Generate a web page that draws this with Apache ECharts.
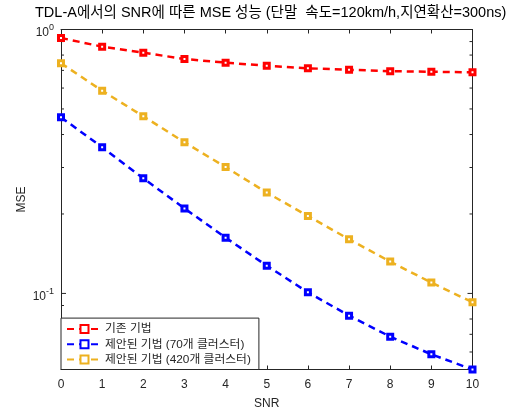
<!DOCTYPE html>
<html>
<head>
<meta charset="utf-8">
<script src="https://cdn.jsdelivr.net/npm/echarts@6/dist/echarts.min.js"></script>
<style>
html,body{margin:0;padding:0;background:#fff;}
#chart{width:525px;height:417px;}
</style>
</head>
<body>
<div id="chart"></div>
<script>
// ---- data ----
const snr = [0, 1, 2, 3, 4, 5, 6, 7, 8, 9, 10];
const conventional = [0.929, 0.861, 0.817, 0.773, 0.749, 0.729, 0.713, 0.704, 0.695, 0.692, 0.688];
const proposed70 = [0.465, 0.358, 0.273, 0.210, 0.1627, 0.1274, 0.101, 0.0824, 0.0686, 0.0588, 0.0515];
const proposed420 = [0.745, 0.586, 0.469, 0.374, 0.301, 0.241, 0.1966, 0.1604, 0.132, 0.1099, 0.0926];
const seriesNames = ['기존 기법', '제안된 기법 (70개 클러스터)', '제안된 기법 (420개 클러스터)'];
const xTicks = [0, 1, 2, 3, 4, 5, 6, 7, 8, 9, 10];
const yMajorTicks = [1, 0.1];
const yMajorLabels = [['10', '0'], ['10', '-1']];
const yMinorTicks = [0.9, 0.8, 0.7, 0.6, 0.5, 0.4, 0.3, 0.2, 0.09, 0.08, 0.07, 0.06];
const yMin = 0.0515, yMax = 1;
const titleText = 'TDL-A에서의 SNR에 따른 MSE 성능 (단말  속도=120km/h,지연확산=300ns)';

const FONT = "Arial, 'Liberation Sans', 'Noto Sans CJK KR', sans-serif";
const AX = '#262626';
const colors = ['#ff0000', '#0000ff', '#EDB120'];

const chart = echarts.init(document.getElementById('chart'), null, {renderer: 'canvas'});

function mkSeries(name, vals, color) {
  return {
    name: name,
    type: 'line',
    xAxisIndex: 0, yAxisIndex: 0,
    data: snr.map((x, i) => [x, vals[i]]),
    symbol: 'rect',
    symbolSize: 5,
    showSymbol: true,
    lineStyle: {color: color, width: 2.5, type: [7, 5]},
    itemStyle: {color: '#ffffff', borderColor: color, borderWidth: 3},
    emphasis: {disabled: true},
    animation: false,
    z: 3
  };
}

const option = {
  animation: false,
  backgroundColor: '#ffffff',
  textStyle: {fontFamily: FONT},
  title: {
    text: titleText,
    left: 35,
    top: 6,
    padding: 0,
    textStyle: {fontFamily: FONT, fontSize: 14.5, fontWeight: 'normal', color: '#000'}
  },
  grid: {left: 61, right: 52.5, top: 29.5, bottom: 47.5, containLabel: false},
  xAxis: [{
    type: 'value', min: 0, max: 10, interval: 1,
    name: 'SNR', nameLocation: 'middle', nameGap: 28,
    nameTextStyle: {color: AX, fontSize: 12, fontFamily: FONT},
    axisLine: {show: true, lineStyle: {color: AX, width: 1}},
    axisTick: {show: true, inside: true, length: 4, lineStyle: {color: AX}},
    axisLabel: {color: AX, fontSize: 12, fontFamily: FONT, margin: 9},
    splitLine: {show: false}
  }, {
    type: 'value', min: 0, max: 10, interval: 1, position: 'top',
    axisLine: {show: true, lineStyle: {color: AX, width: 1}},
    axisTick: {show: true, inside: true, length: 4, lineStyle: {color: AX}},
    axisLabel: {show: false},
    splitLine: {show: false}
  }],
  yAxis: [{
    type: 'log', logBase: 10, min: yMin, max: yMax,
    name: 'MSE', nameLocation: 'middle', nameGap: 33, nameRotate: 90,
    nameTextStyle: {color: AX, fontSize: 12, fontFamily: FONT},
    axisLine: {show: true, lineStyle: {color: AX, width: 1}},
    axisTick: {show: false},
    axisLabel: {show: false},
    splitLine: {show: false}
  }, {
    type: 'log', logBase: 10, min: yMin, max: yMax, position: 'right',
    axisLine: {show: true, onZero: false, lineStyle: {color: AX, width: 1}},
    axisTick: {show: false},
    axisLabel: {show: false},
    splitLine: {show: false}
  }],
  legend: {
    orient: 'vertical',
    left: 61, bottom: 47.5,
    padding: [5, 8, 4, 5],
    itemWidth: 35, itemHeight: 10, itemGap: 3.5,
    backgroundColor: '#ffffff',
    borderColor: AX, borderWidth: 1, borderRadius: 0,
    textStyle: {color: AX, fontSize: 11.8, fontFamily: FONT, padding: [0, 0, 0, -2]},
    data: seriesNames,
    selectedMode: false
  },
  series: [
    mkSeries(seriesNames[0], conventional, colors[0]),
    mkSeries(seriesNames[1], proposed70, colors[1]),
    mkSeries(seriesNames[2], proposed420, colors[2]),
    {
      type: 'custom',
      xAxisIndex: 0, yAxisIndex: 0,
      data: [[0, 1]],
      silent: true,
      z: 1,
      renderItem: function (params, api) {
        const cs = params.coordSys;
        const L = cs.x, R = cs.x + cs.width;
        const children = [];
        const addTick = (v, len) => {
          const y = api.coord([0, v])[1];
          children.push({type: 'line', shape: {x1: L, y1: y, x2: L + len, y2: y}, style: {stroke: AX, lineWidth: 1}});
          children.push({type: 'line', shape: {x1: R, y1: y, x2: R - len, y2: y}, style: {stroke: AX, lineWidth: 1}});
        };
        yMajorTicks.forEach(v => addTick(v, 5));
        yMinorTicks.forEach(v => addTick(v, 3));
        yMajorTicks.forEach((v, i) => {
          const y = api.coord([0, v])[1];
          children.push({
            type: 'text',
            style: {
              x: L - 7, y: y + 1.5,
              text: '{b|' + yMajorLabels[i][0] + '}{s|' + yMajorLabels[i][1] + '}',
              align: 'right', verticalAlign: 'middle',
              rich: {
                b: {fontSize: 12, lineHeight: 16, verticalAlign: 'bottom', fontFamily: FONT, fill: AX, color: AX},
                s: {fontSize: 9, lineHeight: 10, verticalAlign: 'top', fontFamily: FONT, fill: AX, color: AX}
              },
              fill: AX
            }
          });
        });
        return {type: 'group', children: children};
      }
    }
  ]
};
chart.setOption(option);
</script>
</body>
</html>
